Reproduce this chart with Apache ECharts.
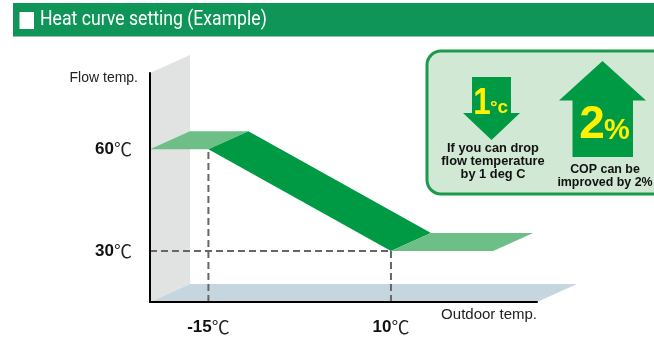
<!DOCTYPE html>
<html><head><meta charset="utf-8">
<script src="https://cdn.jsdelivr.net/npm/echarts@6/dist/echarts.min.js"></script>
<style>html,body{margin:0;padding:0;background:#fff}#c{width:654px;height:337px}</style>
</head><body><div id="c"></div>
<script>
// ---- data ----
const titleText = 'Heat curve setting (Example)';
const xName = 'Outdoor temp.';
const yName = 'Flow temp.';
const xRange = [-23, 30];
const yRange = [15, 82.5];
const xTicks = [-15, 10];
const yTicks = [30, 60];
const unit = '℃';
const curveX = [-23, -15, 10, 24];
const curveY = [60, 60, 30, 30];
const dropLines = [[-15, 60], [10, 30]];
const levelLines = [[10, 30]];
const dropText = ['If you can drop', 'flow temperature', 'by 1 deg C'];
const gainText = ['COP can be', 'improved by 2%'];
const dropValue = '1', dropUnit = '°c';
const gainValue = '2', gainUnit = '%';

// ---- styles ----
const DX = 40, DY = -18;
const DARK = '#009944', LIGHT = '#6dbf87';
const BASE = 'Liberation Sans, Arial, sans-serif';
const CJK = 'Noto Sans CJK JP';

const segments = [];
for (let i = 0; i < curveX.length - 1; i++) segments.push([curveX[i], curveY[i], curveX[i + 1], curveY[i + 1]]);
const guides = dropLines.map(p => [p[0], p[1], 0]).concat(levelLines.map(p => [p[0], p[1], 1]));

const chart = echarts.init(document.getElementById('c'));
const labelRich = {
  n: { fontFamily: BASE, fontWeight: 'bold', fontSize: 17, color: '#111' },
  u: { fontFamily: CJK, fontSize: 18, color: '#222' }
};
chart.setOption({
  animation: false,
  grid: { left: 150, top: 73, width: 387, height: 229 },
  xAxis: {
    type: 'value', min: xRange[0], max: xRange[1], z: 10,
    name: xName, nameLocation: 'end', nameGap: 0,
    nameTextStyle: { fontFamily: BASE, fontSize: 15, color: '#222', align: 'right', verticalAlign: 'top', padding: [5, 0, 0, 0] },
    axisLine: { onZero: false, lineStyle: { color: '#000', width: 2 } },
    axisTick: { show: false }, splitLine: { show: false },
    axisLabel: { customValues: xTicks, margin: 16, formatter: v => `{n|${v}}{u|${unit}}`, rich: labelRich }
  },
  yAxis: {
    type: 'value', min: yRange[0], max: yRange[1], z: 10,
    name: yName, nameLocation: 'end', nameGap: -5,
    nameTextStyle: { fontFamily: BASE, fontSize: 14, color: '#222', align: 'right', verticalAlign: 'middle', padding: [0, 12, 0, 0] },
    axisLine: { show: true, onZero: false, lineStyle: { color: '#000', width: 2 } },
    axisTick: { show: false }, splitLine: { show: false },
    axisLabel: { customValues: yTicks, margin: 18, formatter: v => `{n|${v}}{u|${unit}}`, rich: labelRich }
  },
  series: [
    {
      type: 'custom', z: 1, silent: true,
      data: [[xRange[0], yRange[0], xRange[1], yRange[1]]],
      encode: { x: [0, 2], y: [1, 3] },
      renderItem(params, api) {
        const bl = api.coord([api.value(0), api.value(1)]);
        const br = api.coord([api.value(2), api.value(1)]);
        const tl = api.coord([api.value(0), api.value(3)]);
        return { type: 'group', children: [
          { type: 'polygon', shape: { points: [tl, [tl[0] + DX, tl[1] + DY], [bl[0] + DX, bl[1] + DY], bl] }, style: { fill: '#e1e2e2' } },
          { type: 'polygon', shape: { points: [bl, [bl[0] + DX, bl[1] + DY], [br[0] + DX, br[1] + DY], br] }, style: { fill: '#c6d6df' } }
        ] };
      }
    },
    {
      type: 'custom', z: 3, silent: true,
      data: segments,
      encode: { x: [0, 2], y: [1, 3] },
      renderItem(params, api) {
        const a = api.coord([api.value(0), api.value(1)]);
        const b = api.coord([api.value(2), api.value(3)]);
        const flat = api.value(1) === api.value(3);
        return { type: 'polygon', shape: { points: [a, b, [b[0] + DX, b[1] + DY], [a[0] + DX, a[1] + DY]] }, style: { fill: flat ? LIGHT : DARK } };
      }
    },
    {
      type: 'custom', z: 4, silent: true,
      data: guides,
      encode: { x: 0, y: 1 },
      renderItem(params, api) {
        const x = api.value(0), y = api.value(1), kind = api.value(2);
        const p = api.coord([x, y]);
        const q = kind === 0 ? api.coord([x, yRange[0]]) : api.coord([xRange[0], y]);
        return { type: 'line', shape: { x1: q[0], y1: q[1], x2: p[0], y2: p[1] }, style: { stroke: '#666', lineWidth: 2, lineDash: [7, 4] } };
      }
    }
  ],
  graphic: [
    { type: 'rect', shape: { x: 13, y: 3, width: 641, height: 33.5 }, style: { fill: '#0f9558' } },
    { type: 'rect', shape: { x: 19.5, y: 12, width: 14.5, height: 17 }, style: { fill: '#fff' } },
    { type: 'text', x: 40, y: 20, scaleX: 0.84, style: { text: titleText, fill: '#fff', font: '21px Roboto', textAlign: 'left', textVerticalAlign: 'middle' } },
    { type: 'rect', shape: { x: 427, y: 51, width: 240, height: 143, r: 14 }, style: { fill: '#d1e8d5', stroke: '#1b9a4c', lineWidth: 3 } },
    { type: 'polygon', shape: { points: [[472, 77], [511, 77], [511, 113], [520, 113], [491.5, 140], [463, 113], [472, 113]] }, style: { fill: DARK } },
    { type: 'polygon', shape: { points: [[602.5, 61], [646, 100.5], [633, 100.5], [633, 157], [572.5, 157], [572.5, 100.5], [559, 100.5]] }, style: { fill: DARK } },
    { type: 'text', x: 482, y: 104, scaleX: 0.85, style: { text: dropValue, fill: '#fff200', font: 'bold 37px ' + BASE, textAlign: 'center', textVerticalAlign: 'middle' } },
    { type: 'text', x: 490, y: 108, style: { text: dropUnit, fill: '#fff200', font: 'bold 19px ' + BASE, textAlign: 'left', textVerticalAlign: 'middle' } },
    { type: 'text', x: 592, y: 125, style: { text: gainValue, fill: '#fff200', font: 'bold 46px ' + BASE, textAlign: 'center', textVerticalAlign: 'middle' } },
    { type: 'text', x: 617, y: 131, style: { text: gainUnit, fill: '#fff200', font: 'bold 29px ' + BASE, textAlign: 'center', textVerticalAlign: 'middle' } },
    { type: 'text', x: 493, y: 161, scaleX: 0.95, style: { text: dropText.join('\n'), fill: '#111', font: 'bold 13.5px ' + BASE, lineHeight: 12.8, textAlign: 'center', textVerticalAlign: 'middle' } },
    { type: 'text', x: 605, y: 175.5, scaleX: 0.92, style: { text: gainText.join('\n'), fill: '#111', font: 'bold 13.5px ' + BASE, lineHeight: 12.8, textAlign: 'center', textVerticalAlign: 'middle' } }
  ]
});
</script></body></html>
